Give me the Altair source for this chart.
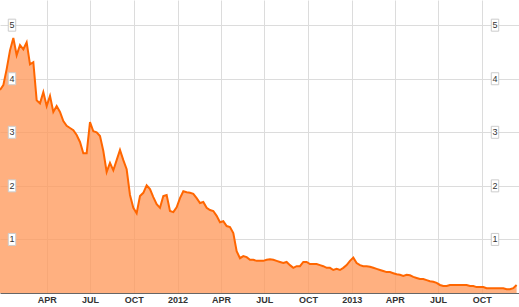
import altair as alt
import pandas as pd

# weekly observations starting 2010-12-24
start_date = "2010-12-24"
values = [
    3.79, 3.88, 4.18, 4.53, 4.76, 4.44, 4.63, 4.55, 4.68, 4.27,
    4.31, 3.60, 3.54, 3.75, 3.49, 3.68, 3.38, 3.49, 3.38, 3.21,
    3.12, 3.08, 3.04, 2.95, 2.82, 2.61, 2.61, 3.19, 3.02, 3.00,
    2.93, 2.65, 2.26, 2.43, 2.29, 2.48, 2.67, 2.48, 2.31, 1.83,
    1.59, 1.49, 1.81, 1.87, 2.01, 1.94, 1.79, 1.66, 1.59, 1.81,
    1.83, 1.53, 1.51, 1.60, 1.77, 1.90, 1.88, 1.87, 1.85, 1.77,
    1.68, 1.70, 1.59, 1.55, 1.53, 1.44, 1.32, 1.34, 1.25, 1.23,
    1.12, 0.78, 0.65, 0.69, 0.67, 0.62, 0.62, 0.60, 0.60, 0.60,
    0.62, 0.63, 0.62, 0.60, 0.58, 0.56, 0.58, 0.52, 0.47, 0.50,
    0.50, 0.58, 0.58, 0.54, 0.54, 0.54, 0.52, 0.50, 0.47, 0.47,
    0.43, 0.45, 0.43, 0.47, 0.52, 0.60, 0.66, 0.56, 0.52, 0.50,
    0.50, 0.49, 0.47, 0.45, 0.43, 0.41, 0.39, 0.39, 0.37, 0.35,
    0.34, 0.32, 0.34, 0.33, 0.30, 0.28, 0.26, 0.26, 0.24, 0.22,
    0.21, 0.19, 0.15, 0.13, 0.13, 0.15, 0.15, 0.15, 0.15, 0.15,
    0.15, 0.13, 0.13, 0.11, 0.11, 0.11, 0.09, 0.09, 0.09, 0.09,
    0.09, 0.09, 0.07, 0.07, 0.09, 0.15,
]
y_ticks = [1, 2, 3, 4, 5]
x_tick_dates = [
    (2011, 4), (2011, 7), (2011, 10), (2012, 1), (2012, 4), (2012, 7),
    (2012, 10), (2013, 1), (2013, 4), (2013, 7), (2013, 10),
]

dates = pd.date_range(start_date, periods=len(values), freq="7D")
df = pd.DataFrame({"date": dates, "value": values})
tick_df = pd.DataFrame({"v": y_ticks})

x_scale = alt.Scale(
    domain=[alt.DateTime(year=2010, month=12, date=24),
            alt.DateTime(year=2013, month=12, date=18)],
    nice=False,
)
y_scale = alt.Scale(domain=[0, 5.47], nice=False, zero=True)

x_axis = alt.Axis(
    values=[alt.DateTime(year=y, month=m, date=1) for y, m in x_tick_dates],
    labelExpr="month(datum.value) == 0 ? timeFormat(datum.value, '%Y') : upper(timeFormat(datum.value, '%b'))",
    title=None, grid=True, gridColor="#dcdcdc", gridWidth=1,
    ticks=False, domainColor="#666666", domainWidth=1,
    labelFont="Liberation Sans", labelFontSize=9, labelFontWeight="bold",
    labelColor="#333333", labelPadding=2,
)
y_axis = alt.Axis(
    values=y_ticks, title=None, labels=False, ticks=False, domain=False,
    grid=True, gridColor="#dcdcdc", gridWidth=1,
)

base = alt.Chart(df)
area = base.mark_area(color="#FF9A5C", opacity=0.78).encode(
    x=alt.X("date:T", scale=x_scale, axis=x_axis),
    y=alt.Y("value:Q", scale=y_scale, axis=y_axis),
)
line = base.mark_line(color="#FF6600", strokeWidth=2).encode(
    x=alt.X("date:T", scale=x_scale),
    y=alt.Y("value:Q", scale=y_scale),
)

box_shape = "M-0.62,-1L0.62,-1L0.62,1L-0.62,1Z"
layers = [area, line]
for xpos in (12, 495):
    boxes = alt.Chart(tick_df).mark_point(
        shape=box_shape, size=144, filled=True, fill="white",
        stroke="#cccccc", strokeWidth=1, opacity=1,
    ).encode(x=alt.value(xpos), y=alt.Y("v:Q", scale=y_scale))
    labels = alt.Chart(tick_df).mark_text(
        font="Liberation Sans", fontSize=9, color="#333333",
        align="center", baseline="middle",
    ).encode(x=alt.value(xpos), y=alt.Y("v:Q", scale=y_scale), text=alt.Text("v:Q"))
    layers += [boxes, labels]

chart = alt.layer(*layers).properties(
    width=519, height=293,
    padding={"left": 0, "top": 0, "right": 0, "bottom": 14},
    autosize=alt.AutoSizeParams(type="none"),
).configure_view(stroke=None)

chart.save("out.html", embed_options={"renderer": "svg", "actions": False})
